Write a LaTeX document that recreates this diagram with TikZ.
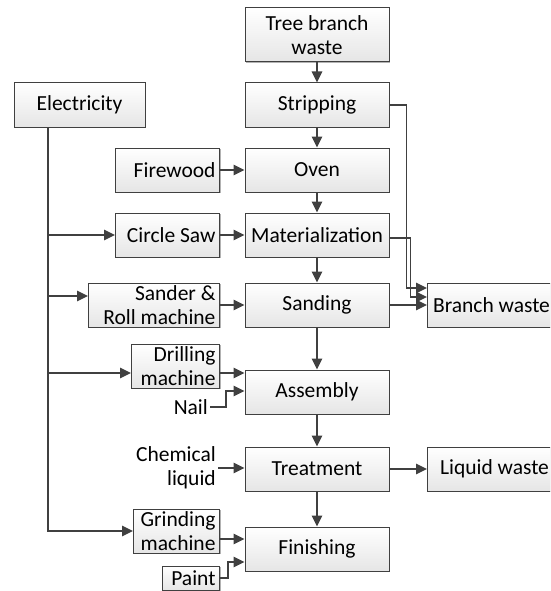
\documentclass[tikz,border=0pt]{standalone}
\usepackage{fontspec}
\setmainfont{Carlito}
\usetikzlibrary{arrows.meta, shadows}
\definecolor{linegray}{HTML}{404040}

\begin{document}
\begin{tikzpicture}[x=1pt, y=-1pt,
        box/.style={draw=linegray, line width=1pt, top color=white, bottom color=black!10,
            drop shadow={shadow xshift=1.2pt, shadow yshift=-1.2pt, fill=black!30, opacity=1},
            font=\fontsize{21.5}{23.5}\selectfont, align=flush center, inner xsep=4pt, inner ysep=1pt,
            minimum height=44pt},
        mainbox/.style={box, minimum width=144pt},
        sidebox/.style={box, anchor=east, align=flush right},
        plain/.style={font=\fontsize{21.5}{23.5}\selectfont, inner sep=2pt},
        flow/.style={draw=linegray, line width=1.5pt, -{Triangle[length=11pt, width=10.5pt]}}]
    \useasboundingbox (0,0) rectangle (550,591);
    \clip (0,0) rectangle (550,591);

    % main process column
    \node[mainbox, minimum height=54pt] (tree) at (317,35) {Tree branch\\waste};
    \node[mainbox] (strip) at (317,105) {Stripping};
    \node[mainbox] (oven) at (317,170) {Oven};
    \node[mainbox] (mat) at (317,235) {Materialization};
    \node[mainbox] (sanding) at (317,305) {Sanding};
    \node[mainbox] (assembly) at (317,392) {Assembly};
    \node[mainbox] (treat) at (317,469) {Treatment};
    \node[mainbox] (finish) at (317,549) {Finishing};

    % inputs
    \node[box, minimum width=131pt] (elec) at (79.5,105) {Electricity};
    \node[sidebox, text width=96pt] (fire) at (220,170) {Firewood};
    \node[sidebox, text width=96pt] (saw) at (220,235) {Circle Saw};
    \node[sidebox, text width=123pt] (sander) at (220,305) {Sander \&\\Roll machine};
    \node[sidebox, text width=80pt] (drill) at (220,366) {Drilling\\machine};
    \node[plain, anchor=east] (nail) at (210,407) {Nail};
    \node[plain, anchor=east, align=flush right] (chem) at (218,468) {Chemical\\liquid};
    \node[sidebox, text width=78pt] (grind) at (220,531) {Grinding\\machine};
    \node[sidebox, text width=49pt, minimum height=24pt] (paint) at (220,578) {Paint};

    % wastes
    \node[box, anchor=west, minimum width=128pt] (branch) at (427,305) {Branch waste};
    \node[box, anchor=west, minimum width=134pt] (liquid) at (427,469) {Liquid waste};

    % main flow
    \draw[flow] (tree) -- (strip);
    \draw[flow] (strip) -- (oven);
    \draw[flow] (oven) -- (mat);
    \draw[flow] (mat) -- (sanding);
    \draw[flow] (sanding) -- (assembly);
    \draw[flow] (assembly) -- (treat);
    \draw[flow] (treat) -- (finish);

    % side inputs
    \draw[flow] (fire) -- (oven);
    \draw[flow] (saw) -- (mat);
    \draw[flow] (sander) -- (sanding);
    \coordinate (drillrow) at ([yshift=-7pt]drill.east);
    \draw[flow] (drillrow) -- (drillrow -| assembly.west);
    \draw[flow] (nail.east) -- ++(16,0) |- ([yshift=1pt]assembly.west);
    \draw[flow] (chem.east) -- (chem.east -| treat.west);
    \coordinate (grindrow) at ([yshift=-8pt]grind.east);
    \draw[flow] (grindrow) -- (grindrow -| finish.west);
    \draw[flow] (paint.east) -- ++(8,0) |- ([yshift=-13pt]finish.west);

    % electricity bus
    \coordinate (bus) at ([xshift=-31.5pt]elec.south);
    \coordinate (sanderrow) at ([yshift=9pt]sander.west);
    \coordinate (drillin) at ([yshift=-7pt]drill.west);
    \draw[flow] (bus) |- (grind.west);
    \draw[flow] (bus |- saw.west) -- (saw.west);
    \draw[flow] (bus |- sanderrow) -- (sanderrow);
    \draw[flow] (bus |- drillin) -- (drillin);

    % wastes
    \draw[flow] (strip.east) -- ++(17,0) |- ([yshift=17pt]branch.west);
    \draw[flow] ([yshift=-3pt]mat.east) -- ++(21,0) |- ([yshift=8pt]branch.west);
    \draw[flow] (sanding) -- (branch);
    \draw[flow] (treat) -- (liquid);
\end{tikzpicture}
\end{document}
